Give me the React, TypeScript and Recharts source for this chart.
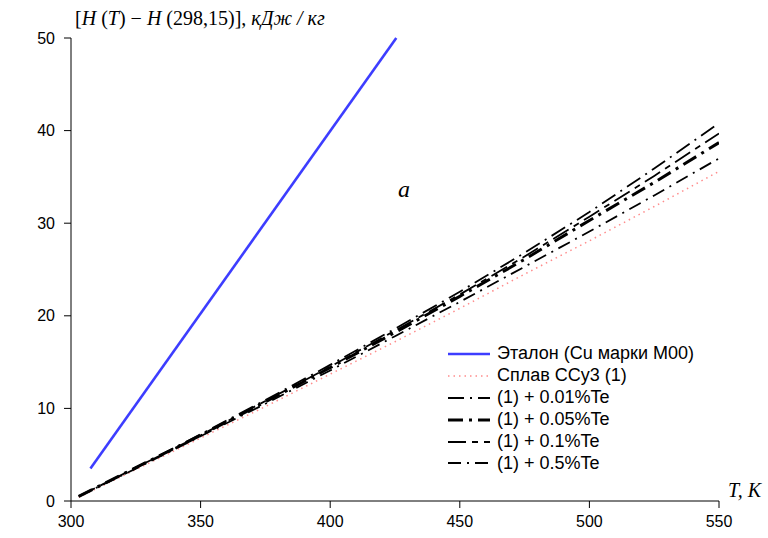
import React from "react";
import { LineChart, Line, XAxis, YAxis, Legend, Label } from "recharts";

const T_BLACK = [303, 325, 350, 375, 400, 425, 450, 475, 500, 525, 550];
const T_ETALON = [307.5, 425.5];
const H_ETALON = [3.5, 50];
const H_CCU3 = [0.4, 3.4, 6.8, 10.2, 13.7, 17.2, 20.8, 24.5, 28.1, 31.8, 35.6];
const H_TE001 = [0.5, 3.6, 7.2, 10.9, 14.7, 18.6, 22.6, 26.8, 31.2, 35.9, 40.8];
const H_TE005 = [0.5, 3.6, 7.1, 10.7, 14.4, 18.2, 22.1, 26.1, 30.3, 34.4, 38.7];
const H_TE01 = [0.5, 3.6, 7.1, 10.8, 14.5, 18.4, 22.3, 26.4, 30.7, 35.1, 39.7];
const H_TE05 = [0.5, 3.5, 7.0, 10.5, 14.1, 17.8, 21.5, 25.3, 29.1, 33.0, 37.0];
const X_TICKS = [300, 350, 400, 450, 500, 550];
const Y_TICKS = [0, 10, 20, 30, 40, 50];

const toData = (ts: number[], hs: number[]) => ts.map((t, i) => ({ T: t, H: hs[i] }));

const SERIES = [
  { name: "Эталон (Cu марки M00)", data: toData(T_ETALON, H_ETALON), color: "#3d3dff", width: 2.6, dash: undefined as string | undefined },
  { name: "Сплав ССу3 (1)", data: toData(T_BLACK, H_CCU3), color: "#ff8c8c", width: 1.5, dash: "1.5 4" },
  { name: "(1) + 0.01%Te", data: toData(T_BLACK, H_TE001), color: "#000", width: 1.8, dash: "16 6 2 6" },
  { name: "(1) + 0.05%Te", data: toData(T_BLACK, H_TE005), color: "#000", width: 3, dash: "15 6 3 6" },
  { name: "(1) + 0.1%Te", data: toData(T_BLACK, H_TE01), color: "#000", width: 1.8, dash: "18 6 6 6" },
  { name: "(1) + 0.5%Te", data: toData(T_BLACK, H_TE05), color: "#000", width: 1.8, dash: "13 6 2 6" },
];

const SANS = "'Liberation Sans', Arial, sans-serif";
const SERIF = "'Liberation Serif', 'Times New Roman', serif";

const renderLegend = () => (
  <div style={{ fontFamily: SANS, fontSize: 18, color: "#000" }}>
    {SERIES.map((s) => (
      <div key={s.name} style={{ display: "flex", alignItems: "center", height: 21.9 }}>
        <svg width={44} height={10} style={{ marginRight: 5 }}>
          <line x1={0} y1={5} x2={42} y2={5} stroke={s.color} strokeWidth={s.width} strokeDasharray={s.dash} />
        </svg>
        <span style={{ whiteSpace: "nowrap" }}>{s.name}</span>
      </div>
    ))}
  </div>
);

export default function App() {
  return (
    <div style={{ position: "absolute", left: 0, top: 0, width: 768, height: 538, background: "#fff" }}>
      <LineChart width={768} height={538} margin={{ top: 38, right: 49, bottom: 7, left: 21 }}>
        <XAxis
          type="number"
          dataKey="T"
          domain={[300, 550]}
          ticks={X_TICKS}
          allowDataOverflow
          height={30}
          tickSize={7}
          tickMargin={8}
          stroke="#000"
          tick={{ fill: "#000", fontSize: 16, fontFamily: SANS }}
        >
          <Label
            content={(props: any) => {
              const vb = props.viewBox;
              return (
                <text x={vb.x + vb.width + 9} y={vb.y - 4} fontFamily={SERIF} fontSize={20} fontStyle="italic" fill="#000">
                  T, K
                </text>
              );
            }}
          />
        </XAxis>
        <YAxis
          type="number"
          dataKey="H"
          domain={[0, 50]}
          ticks={Y_TICKS}
          width={50}
          tickSize={7}
          tickMargin={9}
          stroke="#000"
          tick={{ fill: "#000", fontSize: 16, fontFamily: SANS }}
        >
          <Label
            content={(props: any) => {
              const vb = props.viewBox;
              return (
                <g>
                  <text x={vb.x + vb.width + 4} y={vb.y - 13} fontFamily={SERIF} fontSize={20} fill="#000">
                    <tspan>[</tspan>
                    <tspan fontStyle="italic">H</tspan>
                    <tspan> (</tspan>
                    <tspan fontStyle="italic">T</tspan>
                    <tspan>) − </tspan>
                    <tspan fontStyle="italic">H</tspan>
                    <tspan> (298,15)], </tspan>
                    <tspan fontStyle="italic">кДж / кг</tspan>
                  </text>
                  <text x={vb.x + vb.width + 327} y={vb.y + 159} fontFamily={SERIF} fontSize={24} fontStyle="italic" fill="#000">
                    a
                  </text>
                </g>
              );
            }}
          />
        </YAxis>
        <Legend
          layout="vertical"
          align="center"
          verticalAlign="middle"
          content={renderLegend}
          wrapperStyle={{ left: 448, top: 343, width: 300 }}
        />
        {SERIES.map((s) => (
          <Line
            key={s.name}
            data={s.data}
            dataKey="H"
            name={s.name}
            type="linear"
            stroke={s.color}
            strokeWidth={s.width}
            strokeDasharray={s.dash}
            dot={false}
            activeDot={false}
            isAnimationActive={false}
          />
        ))}
      </LineChart>
    </div>
  );
}
